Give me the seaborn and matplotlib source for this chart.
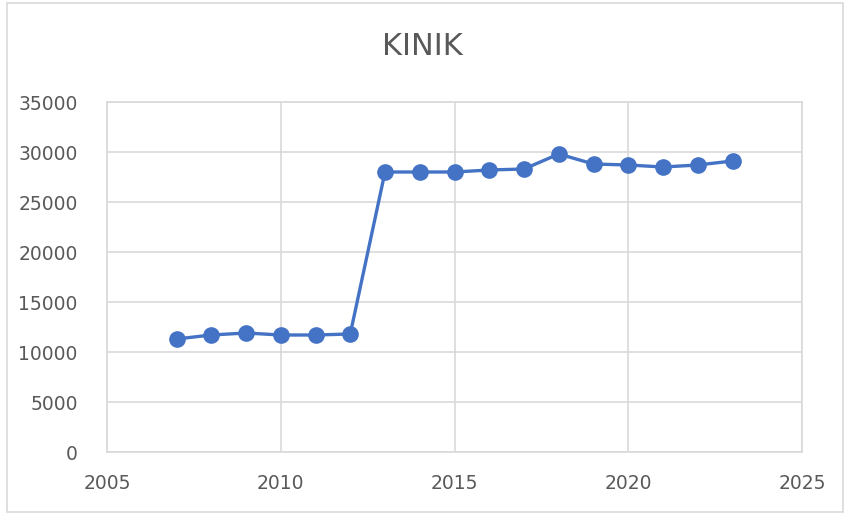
import pandas as pd
import matplotlib
matplotlib.use("Agg")
import matplotlib.pyplot as plt
import seaborn as sns
from matplotlib.patches import Rectangle

# Data
years = [2007, 2008, 2009, 2010, 2011, 2012, 2013, 2014, 2015,
         2016, 2017, 2018, 2019, 2020, 2021, 2022, 2023]
values = [11300, 11700, 11900, 11700, 11700, 11800, 28000, 28000, 28000,
          28200, 28300, 29800, 28800, 28700, 28500, 28700, 29100]
x_ticks = [2005, 2010, 2015, 2020, 2025]
y_ticks = [0, 5000, 10000, 15000, 20000, 25000, 30000, 35000]

df = pd.DataFrame({"Year": years, "Value": values})

sns.set_style("white")
plt.rcParams["font.family"] = ["DejaVu Sans"]

fig = plt.figure(figsize=(8.45, 5.13), dpi=100)
ax = fig.add_axes([107 / 845, 1 - 452 / 513, (802 - 107) / 845, (452 - 102) / 513])

sns.lineplot(x="Year", y="Value", data=df, ax=ax, color="#4472C4",
             linewidth=2.4, marker="o", markersize=12, markeredgewidth=0)

ax.set_xlim(2005, 2025)
ax.set_ylim(0, 35000)
ax.set_xticks(x_ticks)
ax.set_yticks(y_ticks)
ax.grid(True, color="#D9D9D9", linewidth=1.2)
ax.set_axisbelow(True)
for s in ax.spines.values():
    s.set_color("#D9D9D9")
    s.set_linewidth(1.2)
ax.tick_params(axis="both", length=0, labelsize=13.5, labelcolor="#595959")
ax.tick_params(axis="y", pad=21)
ax.tick_params(axis="x", pad=16)
ax.set_xlabel("")
ax.set_ylabel("")

fig.text(0.5, 1 - 47 / 513, "KINIK", ha="center", va="center",
         fontsize=22, color="#595959")

# outer chart border
fig.patches.append(Rectangle((7 / 845, 0.002), 1 - 7 / 845 - 0.002, 1 - 3 / 513 - 0.002,
                             transform=fig.transFigure, fill=False,
                             edgecolor="#D9D9D9", linewidth=1.2))

plt.savefig("out.png", dpi=100)
